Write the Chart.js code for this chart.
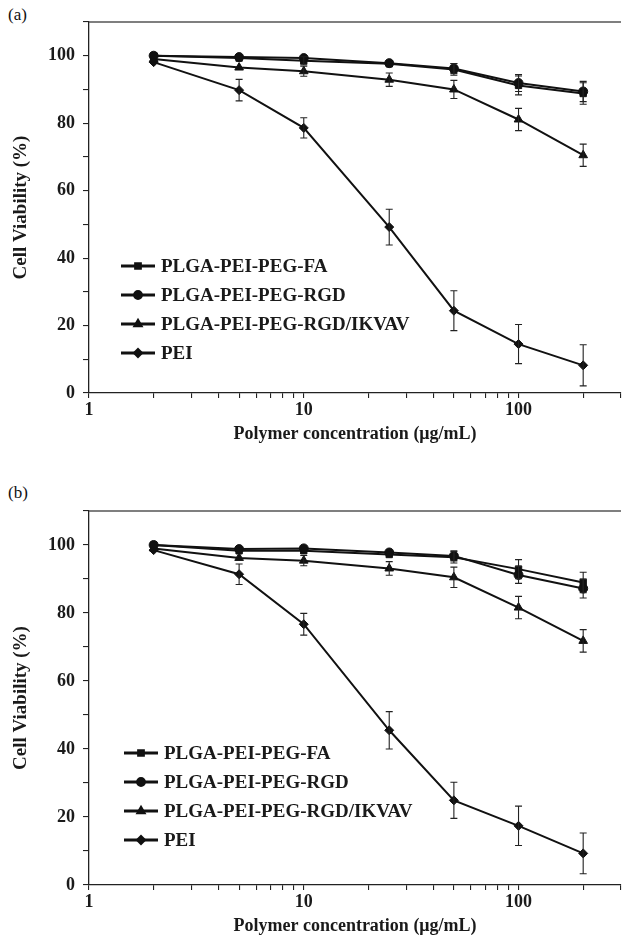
<!DOCTYPE html>
<html lang="en">
<head>
<meta charset="UTF-8">
<title>Cell viability</title>
<script src="https://cdn.jsdelivr.net/npm/chart.js"></script>
<style>
  body { margin: 0; background: #fff; width: 622px; height: 938px; overflow: hidden; position: relative; }
  .panel { position: absolute; left: 0; }
  .tag { position: absolute; left: 8px; font: 17px "Liberation Serif", serif; color: #111; }
</style>
</head>
<body>
<div class="tag" style="top:5px">(a)</div>
<div class="tag" style="top:483px">(b)</div>
<canvas id="chartA" class="panel" style="top:0px" width="627" height="450"></canvas>
<canvas id="chartB" class="panel" style="top:489px" width="627" height="449"></canvas>

<script>
  // concentrations (µg/mL)
  var conc = [2, 5, 10, 25, 50, 100, 200];
  var names = ['PLGA-PEI-PEG-FA', 'PLGA-PEI-PEG-RGD', 'PLGA-PEI-PEG-RGD/IKVAV', 'PEI'];
  var xTickLabels = [1, 10, 100];
  var yTickLabels = [0, 20, 40, 60, 80, 100];

  // panel (a)
  var faA    = [100, 99.3, 98.5, 97.6, 95.9, 91.2, 88.8];
  var rgdA   = [100, 99.6, 99.3, 97.8, 96.2, 91.9, 89.4];
  var ikvavA = [99.0, 96.5, 95.4, 92.9, 90.0, 81.1, 70.5];
  var peiA   = [98.1, 89.8, 78.6, 49.2, 24.4, 14.5, 8.2];
  var faErrA    = [1, 1, 1.2, 1, 1.7, 2.8, 3.2];
  var rgdErrA   = [1, 1, 1, 1, 1.5, 2.5, 3];
  var ikvavErrA = [1, 1, 1.5, 2, 2.7, 3.3, 3.3];
  var peiErrA   = [1, 3.2, 3, 5.3, 5.9, 5.8, 6.1];

  // panel (b)
  var faB    = [100, 98.3, 98.3, 97.2, 96.4, 92.9, 89.0];
  var rgdB   = [100, 98.8, 99.0, 97.8, 96.8, 91.2, 87.2];
  var ikvavB = [99.0, 96.2, 95.4, 93.1, 90.5, 81.6, 71.8];
  var peiB   = [98.5, 91.4, 76.7, 45.5, 24.9, 17.4, 9.3];
  var faErrB    = [1, 1, 1, 1, 1.7, 2.8, 3];
  var rgdErrB   = [1, 1, 1, 1, 1.5, 2.5, 2.8];
  var ikvavErrB = [1, 1, 1.5, 2, 3, 3.3, 3.3];
  var peiErrB   = [1, 3, 3.2, 5.5, 5.3, 5.8, 6];

  var serif = '"Liberation Serif", "Times New Roman", serif';
  var styles = ['rect', 'circle', 'triangle', 'rectRot'];
  var radii = [4.5, 4.5, 5, 4.5];

  function pts(vals) {
    return conc.map(function (c, i) { return { x: c, y: vals[i] }; });
  }

  function makeSets(series, errs) {
    return series.map(function (s, k) {
      return {
        label: names[k],
        data: pts(s),
        err: errs[k],
        borderColor: '#111',
        backgroundColor: '#111',
        borderWidth: 2,
        pointStyle: styles[k],
        pointRadius: radii[k],
        pointBorderWidth: 1,
        tension: 0
      };
    });
  }

  // error bars drawn through the scales
  var errorBars = {
    id: 'errorBars',
    afterDatasetsDraw: function (chart) {
      var ctx = chart.ctx, xs = chart.scales.x, ys = chart.scales.y;
      ctx.save();
      ctx.strokeStyle = '#222';
      ctx.lineWidth = 1.1;
      chart.data.datasets.forEach(function (ds) {
        ds.data.forEach(function (p, i) {
          var e = ds.err[i];
          if (e <= 1) return;
          var x = xs.getPixelForValue(p.x);
          var y1 = ys.getPixelForValue(p.y + e), y2 = ys.getPixelForValue(p.y - e);
          ctx.beginPath();
          ctx.moveTo(x, y1); ctx.lineTo(x, y2);
          ctx.moveTo(x - 3.5, y1); ctx.lineTo(x + 3.5, y1);
          ctx.moveTo(x - 3.5, y2); ctx.lineTo(x + 3.5, y2);
          ctx.stroke();
        });
      });
      ctx.restore();
    }
  };

  // top frame line + legend inside the plot
  var frameLegend = {
    id: 'frameLegend',
    afterDraw: function (chart, args, opts) {
      var ctx = chart.ctx, a = chart.chartArea;
      ctx.save();
      ctx.strokeStyle = '#555';
      ctx.lineWidth = 1.3;
      ctx.beginPath();
      ctx.moveTo(a.left, a.top); ctx.lineTo(a.right, a.top);
      ctx.stroke();

      ctx.font = 'bold 19px ' + serif;
      ctx.textBaseline = 'middle';
      chart.data.datasets.forEach(function (ds, k) {
        var y = opts.top + k * opts.gap;
        ctx.strokeStyle = '#111';
        ctx.lineWidth = 2.8;
        ctx.beginPath();
        ctx.moveTo(opts.left, y); ctx.lineTo(opts.left + 34, y);
        ctx.stroke();
        ctx.fillStyle = '#111';
        Chart.helpers.drawPoint(ctx, { pointStyle: ds.pointStyle, radius: 3.5, borderWidth: 1 }, opts.left + 17, y);
        ctx.fill();
        ctx.fillStyle = '#1a1a1a';
        ctx.fillText(ds.label, opts.left + 40, y + 1);
      });
      ctx.restore();
    }
  };

  function makeChart(id, sets, pad, legendPos) {
    return new Chart(document.getElementById(id), {
      type: 'line',
      data: { datasets: sets },
      plugins: [errorBars, frameLegend],
      options: {
        responsive: false,
        animation: false,
        layout: { padding: { top: pad.top, right: 1, left: 0, bottom: 0 } },
        plugins: {
          legend: { display: false },
          tooltip: { enabled: false },
          frameLegend: legendPos
        },
        scales: {
          x: {
            type: 'logarithmic',
            min: 1,
            max: 300,
            afterBuildTicks: function (s) {
              var t = [];
              [1, 10, 100].forEach(function (d) {
                for (var m = 1; m <= 9; m++) if (d * m <= 300) t.push({ value: d * m });
              });
              s.ticks = t;
            },
            afterFit: function (s) { s.height = pad.xh; },
            border: { color: '#222', width: 1.3 },
            grid: { drawOnChartArea: false, tickLength: 5, color: '#222', lineWidth: 1.1 },
            ticks: {
              autoSkip: false,
              maxRotation: 0,
              padding: 2,
              color: '#1a1a1a',
              font: { family: serif, size: 18, weight: 'bold' },
              callback: function (v) { return xTickLabels.indexOf(v) >= 0 ? String(v) : ''; }
            },
            title: {
              display: true,
              text: 'Polymer concentration (μg/mL)',
              color: '#1a1a1a',
              font: { family: serif, size: 18, weight: 'bold' },
              padding: { top: 0, bottom: pad.tb }
            }
          },
          y: {
            min: 0,
            max: 110,
            afterFit: function (s) { s.width = 89; },
            border: { color: '#222', width: 1.3 },
            grid: { drawOnChartArea: false, tickLength: 6, color: '#222', lineWidth: 1.1 },
            ticks: {
              stepSize: 10,
              padding: 8,
              color: '#1a1a1a',
              font: { family: serif, size: 18, weight: 'bold' },
              callback: function (v) { return yTickLabels.indexOf(v) >= 0 ? String(v) : ''; }
            },
            title: {
              display: true,
              text: 'Cell Viability (%)',
              color: '#1a1a1a',
              font: { family: serif, size: 19, weight: 'bold' },
              padding: { top: 10, bottom: 0 }
            }
          }
        }
      }
    });
  }

  makeChart('chartA',
    makeSets([faA, rgdA, ikvavA, peiA], [faErrA, rgdErrA, ikvavErrA, peiErrA]),
    { top: 22, xh: 57, tb: 5 },
    { left: 121, top: 266, gap: 29 });

  makeChart('chartB',
    makeSets([faB, rgdB, ikvavB, peiB], [faErrB, rgdErrB, ikvavErrB, peiErrB]),
    { top: 22, xh: 53, tb: 1 },
    { left: 124, top: 264, gap: 29 });
</script>
</body>
</html>
